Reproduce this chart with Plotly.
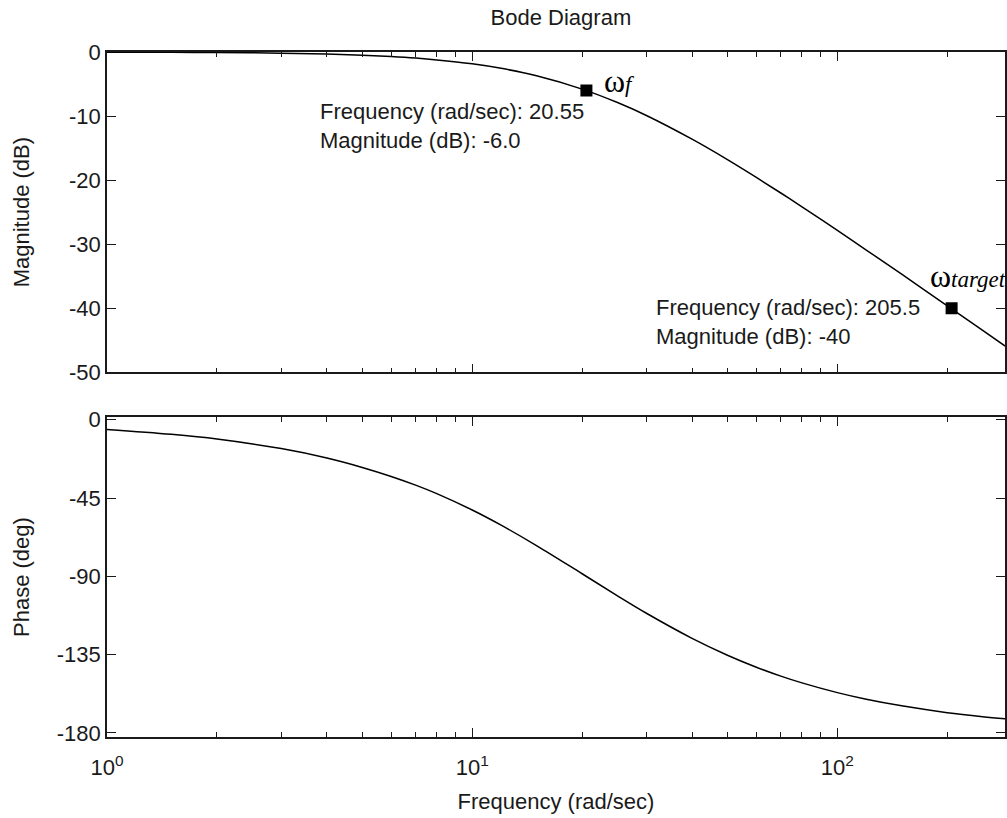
import math
import plotly.graph_objects as go
from plotly.subplots import make_subplots

# Frequency samples (rad/sec) and the response read at each one
freq = [1, 1.5, 2, 3, 4, 5, 6, 7, 8, 10, 12, 15, 20, 25, 30, 40, 50, 60,
        70, 80, 100, 120, 150, 200, 250, 288]
mag_db = [-0.02, -0.05, -0.08, -0.18, -0.32, -0.50, -0.71, -0.95, -1.23,
          -1.85, -2.55, -3.71, -5.79, -7.89, -9.91, -13.61, -16.80, -19.58,
          -22.01, -24.17, -27.85, -30.91, -34.69, -39.62, -43.46, -45.91]
phase_deg = [-5.6, -8.4, -11.1, -16.6, -22.0, -27.4, -32.6, -37.6, -42.5,
             -51.9, -60.6, -72.3, -88.5, -101.2, -111.2, -125.6, -135.3,
             -142.2, -147.3, -151.2, -156.8, -160.6, -164.4, -168.3, -170.6,
             -171.8]

# Marked points
mark_freq = [20.55, 205.5]
mark_mag = [-6.0, -40]
mark_freq_text = ["20.55", "205.5"]
mark_mag_text = ["-6.0", "-40"]
mark_names = ["f", "target"]

mag_ticks = [0, -10, -20, -30, -40, -50]
phase_ticks = [0, -45, -90, -135, -180]
x_major = [1, 10, 100]
x_major_text = ["10<sup>0</sup>", "10<sup>1</sup>", "10<sup>2</sup>"]
x_minor = [2, 3, 4, 5, 6, 7, 8, 9, 20, 30, 40, 50, 60, 70, 80, 90, 200]

FONT = "Liberation Sans, Arial, sans-serif"
INK = "#1a1a1a"
FS = 22

fig = make_subplots(rows=2, cols=1, shared_xaxes=False, vertical_spacing=0.0)

fig.add_trace(go.Scatter(x=freq, y=mag_db, mode="lines",
                         line=dict(color="black", width=1.5, shape="spline"),
                         showlegend=False, hoverinfo="skip"), row=1, col=1)
fig.add_trace(go.Scatter(x=mark_freq, y=mark_mag, mode="markers",
                         marker=dict(symbol="square", size=12, color="black"),
                         showlegend=False, hoverinfo="skip"), row=1, col=1)
fig.add_trace(go.Scatter(x=freq, y=phase_deg, mode="lines",
                         line=dict(color="black", width=1.5, shape="spline"),
                         showlegend=False, hoverinfo="skip"), row=2, col=1)

common_x = dict(type="log", range=[0, 2.459], showgrid=False, zeroline=False,
                showline=True, linecolor=INK, linewidth=1.5, mirror="allticks",
                ticks="inside", ticklen=9, tickwidth=1.2, tickcolor=INK,
                tickmode="array", tickvals=x_major,
                minor=dict(ticks="inside", ticklen=5, tickwidth=1.2,
                           tickcolor=INK, tickmode="array", tickvals=x_minor,
                           showgrid=False))
common_y = dict(showgrid=False, zeroline=False, showline=True, linecolor=INK,
                linewidth=1.5, mirror="allticks", ticks="inside", ticklen=9,
                tickwidth=1.2, tickcolor=INK, tickfont=dict(size=FS),
                title_font=dict(size=FS))

fig.update_xaxes(**common_x, showticklabels=False, row=1, col=1)
fig.update_xaxes(**common_x, ticktext=x_major_text, tickfont=dict(size=FS),
                 ticklabelstandoff=10,
                 title=dict(text="Frequency (rad/sec)", font=dict(size=FS),
                            standoff=14),
                 row=2, col=1)
fig.update_yaxes(**common_y, range=[-50, 0], tickmode="array",
                 tickvals=mag_ticks, ticktext=[str(v) for v in mag_ticks],
                 title=dict(text="Magnitude (dB)", standoff=33), row=1, col=1)
fig.update_yaxes(**common_y, range=[-182.3, 1.5], tickmode="array",
                 tickvals=phase_ticks, ticktext=[str(v) for v in phase_ticks],
                 title=dict(text="Phase (deg)", standoff=21), row=2, col=1)

fig.update_layout(
    yaxis=dict(domain=[0.5324, 1.0]),
    yaxis2=dict(domain=[0.0, 0.467]),
)

# Data-tip labels next to the marked points (log axis: x given as log10)
tip_dx = [0, -30]
tip_dy = [-36, -14]
for f, m, ft, mt, dx, dy in zip(mark_freq, mark_mag, mark_freq_text,
                                mark_mag_text, tip_dx, tip_dy):
    fig.add_annotation(x=math.log10(f), y=m, xref="x", yref="y",
                       text=f"Frequency (rad/sec): {ft}<br>Magnitude (dB): {mt}",
                       showarrow=False, xanchor="right", yanchor="middle",
                       align="left", xshift=dx, yshift=dy,
                       font=dict(family=FONT, size=FS, color=INK))

name_dx = [16, -24]
name_dy = [9, 32]
for f, m, nm, dx, dy in zip(mark_freq, mark_mag, mark_names, name_dx, name_dy):
    fig.add_annotation(x=math.log10(f), y=m, xref="x", yref="y",
                       text=f"<span style='font-size:32px'>ω</span><i>{nm}</i>",
                       showarrow=False, xanchor="left", yanchor="middle",
                       xshift=dx, yshift=dy,
                       font=dict(family="Liberation Serif, Times New Roman, serif",
                                 size=23, color="black"))

fig.update_layout(
    width=1007, height=818,
    margin=dict(l=107, r=0, t=52, b=81),
    paper_bgcolor="white", plot_bgcolor="white",
    font=dict(family=FONT, size=FS, color=INK),
    title=dict(text="Bode Diagram", x=0.557, xanchor="center", y=0.979,
               yanchor="middle", font=dict(size=FS, color=INK)),
)

fig.write_html("out.html")
